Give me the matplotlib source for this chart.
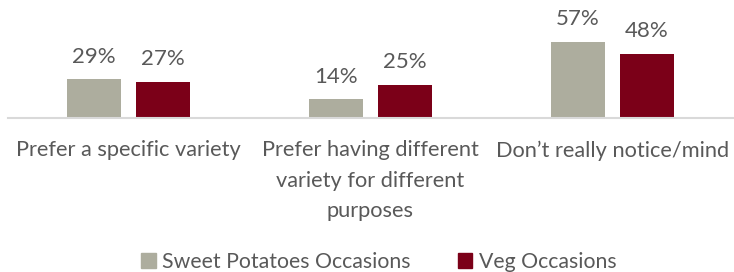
import numpy as np
import matplotlib.pyplot as plt
from matplotlib.patches import Patch

# Datos
categorias = ["Prefer a specific variety",
              "Prefer having different\nvariety for different\npurposes",
              "Don\u2019t really notice/mind"]
sweet_potatoes = [29, 14, 57]
veg = [27, 25, 48]
series = ["Sweet Potatoes Occasions", "Veg Occasions"]

GRIS = "#ADAD9E"
ROJO = "#7B0018"
TEXTO = "#595959"

plt.rcParams['font.family'] = ['Lato', 'DejaVu Sans']

fig = plt.figure(figsize=(7.34, 2.72), dpi=100)
ax = fig.add_axes([7.5 / 734, 154 / 272, 726 / 734, 118 / 272])

x = np.arange(len(categorias))
w = 0.223
off = 0.1426

b1 = ax.bar(x - off, sweet_potatoes, w, color=GRIS)
b2 = ax.bar(x + off, veg, w, color=ROJO)

for bars, vals in ((b1, sweet_potatoes), (b2, veg)):
    for b, v in zip(bars, vals):
        ax.text(b.get_x() + b.get_width() / 2, v + 12.5, f"{v}%",
                ha='center', va='baseline', fontsize=16, color=TEXTO)

ax.set_xlim(-0.5, len(categorias) - 0.5)
ax.set_ylim(0, 88.5)
ax.set_yticks([])
ax.set_xticks(x)
ax.set_xticklabels(categorias, fontsize=15.7, color=TEXTO, linespacing=1.65)
ax.tick_params(axis='x', length=0, pad=16)
for s in ('top', 'right', 'left'):
    ax.spines[s].set_visible(False)
ax.spines['bottom'].set_color("#D9D9D9")
ax.spines['bottom'].set_linewidth(1.5)

handles = [Patch(color=GRIS), Patch(color=ROJO)]
fig.legend(handles, series, loc='center', bbox_to_anchor=(0.516, 10 / 272),
           ncol=2, frameon=False, fontsize=15.3, handlelength=0.7, handleheight=0.7,
           handletextpad=0.3, columnspacing=2.2, labelcolor=TEXTO)

plt.savefig("out.png", dpi=100)
